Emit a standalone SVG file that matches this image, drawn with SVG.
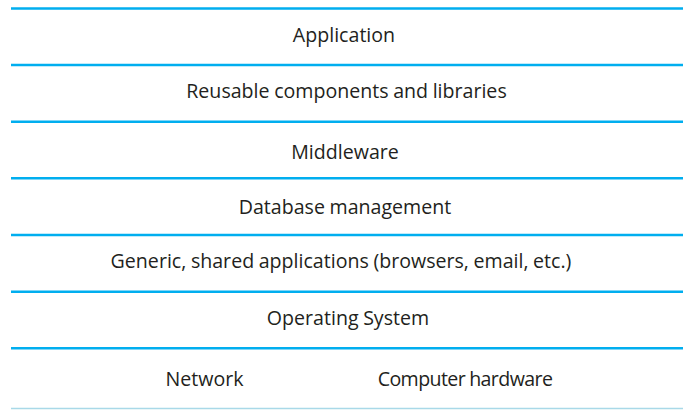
<svg xmlns="http://www.w3.org/2000/svg" width="683" height="410" viewBox="0 0 683 410">
<style>
.sep{stroke:#00aeef;stroke-width:2.5;fill:none}
.base{stroke:#a9d9e8;stroke-width:1.5;fill:none}
.lbl{font-family:"Open Sans","Noto Sans",sans-serif;font-size:19.6px;word-spacing:-0.5px;fill:#231f20;text-anchor:middle}
</style>
<rect width="683" height="410" fill="#ffffff"/>
<g id="connectors">
<line class="sep" x1="11" y1="8.5" x2="683" y2="8.5"/>
<line class="sep" x1="11" y1="65" x2="683" y2="65"/>
<line class="sep" x1="11" y1="121.7" x2="683" y2="121.7"/>
<line class="sep" x1="11" y1="178.3" x2="683" y2="178.3"/>
<line class="sep" x1="11" y1="235" x2="683" y2="235"/>
<line class="sep" x1="11" y1="291.7" x2="683" y2="291.7"/>
<line class="sep" x1="11" y1="348.3" x2="683" y2="348.3"/>
<line class="base" x1="11" y1="408.5" x2="683" y2="408.5"/>
</g>
<g id="application"><text class="lbl" x="344" y="42">Application</text></g>
<g id="reusable"><text class="lbl" x="346.5" y="98">Reusable components and libraries</text></g>
<g id="middleware"><text class="lbl" x="345" y="159">Middleware</text></g>
<g id="database"><text class="lbl" x="345" y="213.5">Database management</text></g>
<g id="generic"><text class="lbl" x="341" y="267.5">Generic, shared applications (browsers, email, etc.)</text></g>
<g id="os"><text class="lbl" x="348" y="324.5">Operating System</text></g>
<g id="network"><text class="lbl" x="204.5" y="386">Network</text></g>
<g id="hardware"><text class="lbl" x="465" y="386" letter-spacing="-0.6">Computer hardware</text></g>
</svg>
